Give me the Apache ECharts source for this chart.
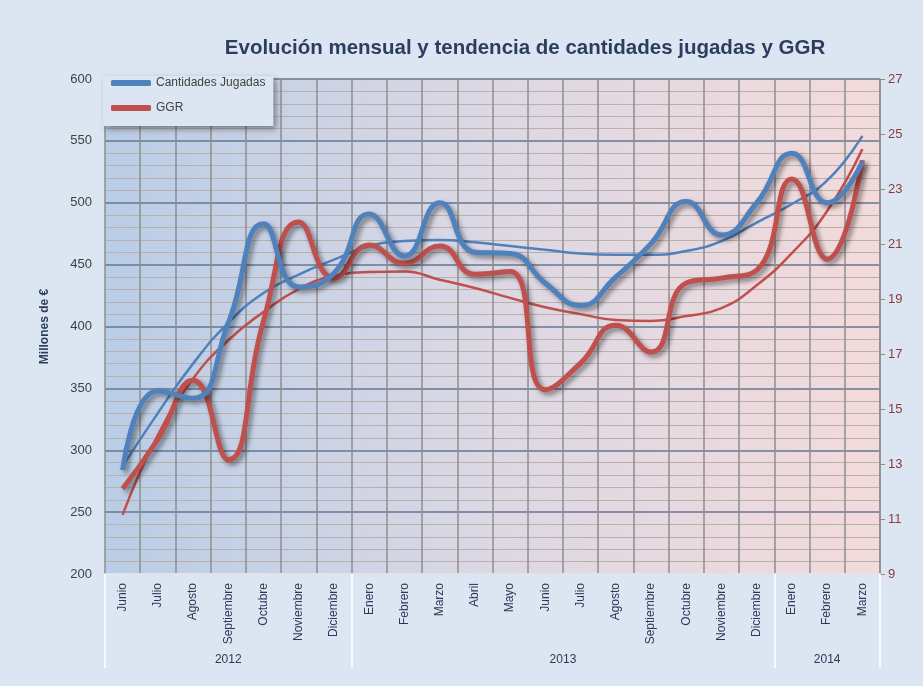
<!DOCTYPE html>
<html>
<head>
<meta charset="utf-8">
<script src="https://cdn.jsdelivr.net/npm/echarts@6/dist/echarts.min.js"></script>
<style>
  html, body { margin: 0; padding: 0; background: #dce6f2; }
  #chart { width: 923px; height: 686px; }
</style>
</head>
<body>
<div id="chart"></div>
<script>
// meses (eje de categorías) y años
const months = ["Junio", "Julio", "Agosto", "Septiembre", "Octubre", "Noviembre", "Diciembre",
  "Enero", "Febrero", "Marzo", "Abril", "Mayo", "Junio", "Julio", "Agosto", "Septiembre",
  "Octubre", "Noviembre", "Diciembre", "Enero", "Febrero", "Marzo"];
const years = ["2012", "2013", "2014"];
const yearBounds = [0, 7, 19, 22];
const yearCenters = [3.5, 13, 20.5];

// millones de € (eje izquierdo)
const cantidades = [284, 348, 342, 403, 483, 432, 443, 491, 457, 500, 460, 459,
  435, 417, 440, 467, 501, 474, 500, 540, 500, 533];
const tendCantidades = [287, 330, 370, 403, 427, 442, 454, 465, 469, 470, 468, 465,
  462, 459, 458, 458, 461, 469, 484, 499, 518, 554];

// GGR (eje derecho)
const ggr = [12.1, 13.9, 16.05, 13.15, 18.2, 21.8, 19.76, 20.96, 20.3, 20.93, 19.9, 20.0,
  15.7, 16.67, 18.05, 17.07, 19.58, 19.76, 20.05, 23.36, 20.45, 24.05];
const tendGgr = [11.15, 14.05, 16.1, 17.5, 18.53, 19.36, 19.84, 19.98, 20.0, 19.7, 19.4, 19.04,
  18.7, 18.45, 18.24, 18.2, 18.38, 18.67, 19.5, 20.67, 22.2, 24.45];

const BLUE = "#4f81bd";
const RED = "#c0504d";
const FONT = "'Liberation Sans', Arial, sans-serif";

const chart = echarts.init(document.getElementById("chart"));

const shadow = {
  shadowColor: "rgba(0,0,0,0.45)",
  shadowBlur: 5,
  shadowOffsetX: 3,
  shadowOffsetY: 3,
};

const options = {
  backgroundColor: "#dce6f2",
  animation: false,
  title: {
    text: "Evolución mensual y tendencia de cantidades jugadas y GGR",
    left: 520,
    textAlign: "center",
    top: 33,
    textStyle: { fontFamily: FONT, fontSize: 20.5, fontWeight: "bold", color: "#2c3d5e" },
  },
  legend: {
    data: ["Cantidades Jugadas", "GGR"],
    orient: "vertical",
    left: 103,
    top: 76,
    icon: "roundRect",
    itemWidth: 40,
    itemHeight: 6,
    itemGap: 13,
    padding: [1, 8, 12, 8],
    backgroundColor: "#dce6f2",
    shadowColor: "rgba(0,0,0,0.4)",
    shadowBlur: 6,
    shadowOffsetX: 3,
    shadowOffsetY: 3,
    textStyle: { fontFamily: FONT, fontSize: 12, color: "#404040" },
  },
  grid: {
    left: 105,
    right: 43,
    top: 79,
    bottom: 112,
    show: true,
    borderWidth: 0,
    backgroundColor: new echarts.graphic.LinearGradient(0, 0, 1, 0, [
      { offset: 0, color: "#b9cde6" },
      { offset: 0.5, color: "#dcd8e4" },
      { offset: 1, color: "#f3dadb" },
    ]),
  },
  xAxis: [
    {
      type: "category",
      data: months,
      boundaryGap: true,
      axisLine: { lineStyle: { color: "#ffffff", width: 1.5 } },
      axisTick: { show: false },
      axisLabel: {
        interval: 0,
        rotate: 90,
        margin: 9,
        fontFamily: FONT,
        fontSize: 12,
        color: "#2b3a57",
      },
      splitLine: { show: true, interval: 0, lineStyle: { color: "#8e8e8e", width: 1.5 } },
    },
    {
      type: "value",
      min: 0,
      max: 22,
      position: "bottom",
      axisLine: { show: false },
      splitLine: { show: false },
      axisTick: {
        show: true,
        customValues: yearBounds,
        length: 94,
        lineStyle: { color: "#ffffff", width: 1.5 },
      },
      axisLabel: {
        customValues: yearCenters,
        margin: 80,
        fontFamily: FONT,
        fontSize: 12,
        color: "#2b3a57",
        formatter: (v) => years[yearCenters.indexOf(v)],
      },
    },
  ],
  yAxis: [
    {
      type: "value",
      min: 200,
      max: 600,
      interval: 50,
      name: "Millones de €",
      nameLocation: "middle",
      nameGap: 54,
      nameTextStyle: { fontFamily: FONT, fontSize: 12, fontWeight: "bold", color: "#2c3d5e" },
      axisLine: { show: false },
      axisTick: { show: false },
      axisLabel: { fontFamily: FONT, fontSize: 13, color: "#404040", margin: 13 },
      splitLine: { show: true, lineStyle: { color: "#66768f", width: 1.5 } },
      minorTick: { show: false, splitNumber: 5 },
      minorSplitLine: { show: true, lineStyle: { color: "#b8b0aa", width: 1.2 } },
    },
    {
      type: "value",
      min: 9,
      max: 27,
      interval: 2,
      position: "right",
      axisLine: { show: true, lineStyle: { color: "#8e8e8e", width: 1.5 } },
      axisTick: { show: true, length: 5, lineStyle: { color: "#8e8e8e" } },
      axisLabel: { fontFamily: FONT, fontSize: 13, color: "#8b3b3b", margin: 8 },
      splitLine: { show: false },
    },
  ],
  series: [
    {
      name: "Tendencia Cantidades",
      type: "line",
      yAxisIndex: 0,
      data: tendCantidades,
      smooth: 0.5,
      showSymbol: false,
      lineStyle: { color: BLUE, width: 2.5 },
      itemStyle: { color: BLUE },
      z: 3,
    },
    {
      name: "Tendencia GGR",
      type: "line",
      yAxisIndex: 1,
      data: tendGgr,
      smooth: 0.5,
      showSymbol: false,
      lineStyle: { color: RED, width: 2.5 },
      itemStyle: { color: RED },
      z: 3,
    },
    {
      name: "GGR",
      type: "line",
      yAxisIndex: 1,
      data: ggr,
      smooth: 0.5,
      showSymbol: false,
      lineStyle: Object.assign({ color: RED, width: 5 }, shadow),
      itemStyle: { color: RED },
      z: 4,
    },
    {
      name: "Cantidades Jugadas",
      type: "line",
      yAxisIndex: 0,
      data: cantidades,
      smooth: 0.5,
      showSymbol: false,
      lineStyle: Object.assign({ color: BLUE, width: 5 }, shadow),
      itemStyle: { color: BLUE },
      z: 5,
    },
  ],
};

chart.setOption(options);
</script>
</body>
</html>
